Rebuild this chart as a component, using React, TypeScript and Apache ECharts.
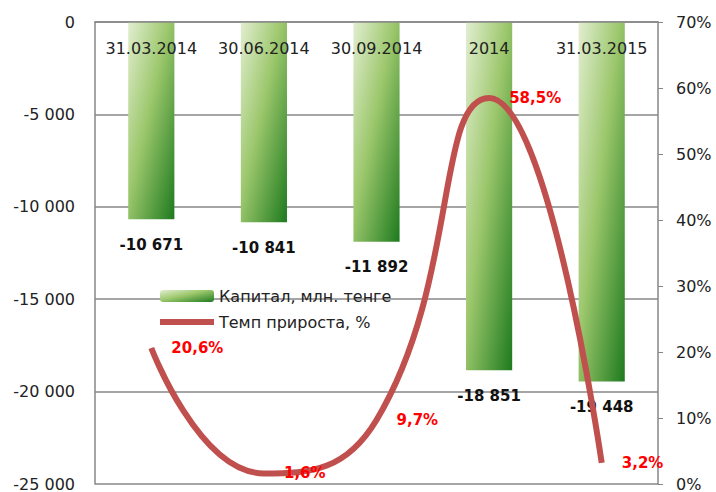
import React, { useEffect, useRef } from "react";
import * as echarts from "echarts";

const categories = ["31.03.2014", "30.06.2014", "30.09.2014", "2014", "31.03.2015"];
const capitalValues = [-10671, -10841, -11892, -18851, -19448];
const growthValues = [20.6, 1.6, 9.7, 58.5, 3.2];
const seriesNames = ["Капитал, млн. тенге", "Темп прироста, %"];

const FONT = "DejaVu Sans";
const GRAY = "#878787";

function fmtThousands(v: number): string {
  const s = Math.abs(v).toString().replace(/\B(?=(\d{3})+(?!\d))/g, " ");
  return (v < 0 ? "-" : "") + s;
}

export default function App() {
  const ref = useRef<HTMLDivElement>(null);
  useEffect(() => {
    if (!ref.current) return;
    const chart = echarts.init(ref.current, null, { renderer: "svg" });
    const barGradient = new echarts.graphic.LinearGradient(0, 0, 1, 1, [
      { offset: 0, color: "#e2eed0" },
      { offset: 0.45, color: "#9cc76c" },
      { offset: 1, color: "#1e7a1e" },
    ]);
    chart.setOption({
      animation: false,
      backgroundColor: "#ffffff",
      grid: { left: 95, right: 58, top: 22, bottom: 5, containLabel: false },
      legend: {
        orient: "vertical",
        left: 152,
        top: 283,
        itemWidth: 54,
        itemHeight: 12,
        itemGap: 10,
        textStyle: { fontFamily: FONT, fontSize: 16, color: "#222" },
        data: [
          { name: seriesNames[0] },
          { name: seriesNames[1], itemStyle: { opacity: 0 }, lineStyle: { width: 6, color: "#c0504d" } },
        ],
      },
      xAxis: {
        type: "category",
        position: "top",
        data: categories,
        z: 10,
        axisLine: { show: true, lineStyle: { color: GRAY, width: 1.5 } },
        axisTick: { show: false },
        axisLabel: {
          inside: true,
          interval: 0,
          margin: 18,
          fontFamily: FONT,
          fontSize: 16,
          color: "#222",
        },
        splitLine: { show: false },
      },
      yAxis: [
        {
          type: "value",
          min: -25000,
          max: 0,
          interval: 5000,
          axisLine: { show: true, lineStyle: { color: GRAY, width: 1.5 } },
          axisTick: { show: false },
          axisLabel: {
            margin: 20,
            fontFamily: FONT,
            fontSize: 16,
            color: "#222",
            formatter: (v: number) => fmtThousands(v),
          },
          splitLine: { show: true, lineStyle: { color: GRAY, width: 1.5 } },
        },
        {
          type: "value",
          min: 0,
          max: 70,
          interval: 10,
          position: "right",
          axisLine: { show: true, lineStyle: { color: GRAY, width: 1.5 } },
          axisTick: { show: true, length: 5, lineStyle: { color: GRAY } },
          axisLabel: {
            margin: 18,
            fontFamily: FONT,
            fontSize: 16,
            color: "#222",
            formatter: (v: number) => v + "%",
          },
          splitLine: { show: false },
        },
      ],
      series: [
        {
          name: seriesNames[0],
          type: "bar",
          yAxisIndex: 0,
          data: capitalValues,
          barWidth: "41%",
          itemStyle: { color: barGradient },
          label: {
            show: true,
            position: "bottom",
            distance: 18,
            fontFamily: FONT,
            fontSize: 15,
            fontWeight: "bold",
            color: "#111",
            formatter: (p: any) => fmtThousands(p.value),
          },
          z: 2,
        },
        {
          name: seriesNames[1],
          type: "line",
          yAxisIndex: 1,
          data: growthValues,
          smooth: 0.5,
          symbol: "circle",
          symbolSize: 0.1,
          showSymbol: true,
          lineStyle: { color: "#c0504d", width: 6 },
          itemStyle: { color: "#c0504d" },
          label: {
            show: true,
            position: "right",
            distance: 20,
            fontFamily: FONT,
            fontSize: 15,
            fontWeight: "bold",
            color: "#ff0000",
            formatter: (p: any) => String(p.value).replace(".", ",") + "%",
          },
          z: 3,
        },
      ],
    });
    return () => chart.dispose();
  }, []);
  return (
    <div
      ref={ref}
      style={{ position: "fixed", left: 0, top: 0, width: 716, height: 492, background: "#fff" }}
    />
  );
}
